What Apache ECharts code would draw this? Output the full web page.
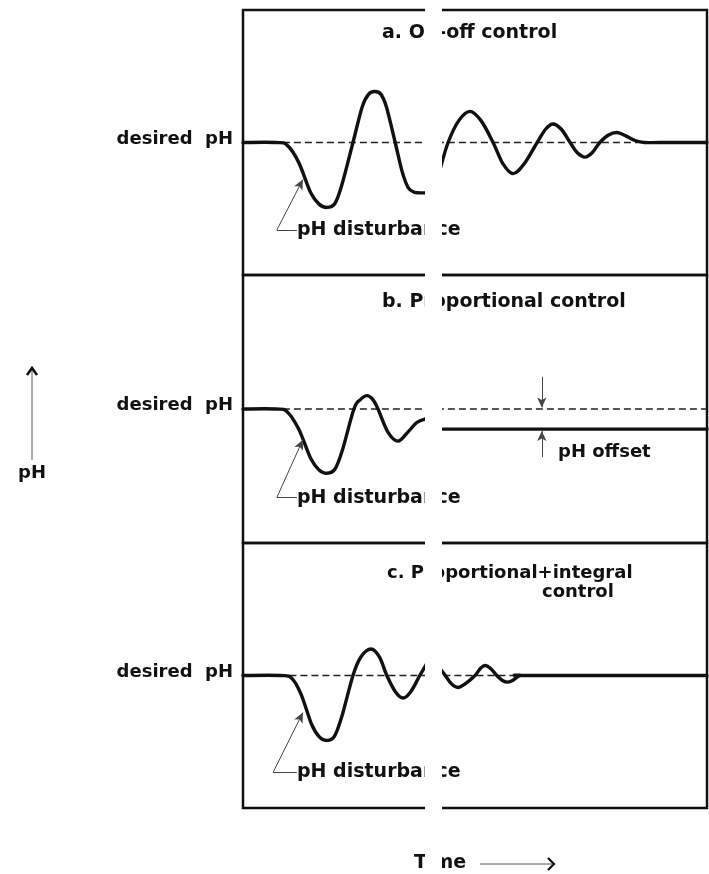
<!DOCTYPE html>
<html><head><meta charset="utf-8">
<script src="https://cdn.jsdelivr.net/npm/echarts/dist/echarts.min.js"></script>
<style>html,body{margin:0;padding:0;background:#fff}#c{width:709px;height:874px}</style>
</head><body><div id="c"></div>
<script>
// Time axis (arbitrary units 0..100), pH deviation from desired pH (0); null = break in the time axis
const onOffTime = [0,7,9.5,12,14.6,16.4,18.1,19.8,21.3,23.7,25.7,27.1,28.4,29.7,30.9,32.8,34.3,35.6,36.9,38,39.6,null,
  42.4,44.2,46.5,48.9,51.3,53.9,56,58.2,60.6,63.4,65.2,66.8,68.6,70.5,72,73.7,75.3,76.9,78.7,80.6,82.5,84.5,86.5,90,100];
const onOffPH   = [0,0,-0.02,-0.15,-0.38,-0.465,-0.49,-0.46,-0.32,0,0.27,0.365,0.385,0.365,0.27,0,-0.22,-0.34,-0.375,-0.38,-0.38,null,
  -0.21,0,0.165,0.235,0.165,0,-0.16,-0.235,-0.16,0,0.1,0.14,0.1,0,-0.075,-0.11,-0.075,0,0.055,0.075,0.05,0.015,0,0,0];

const propTime = [0,7,9.5,12,14.6,16.4,18.1,19.8,21.4,23.9,25.3,26.7,28,29.1,31.2,33.4,35.6,37.5,39.6,null,42.4,100];
const propPH   = [0,0,-0.02,-0.15,-0.37,-0.455,-0.48,-0.45,-0.31,0,0.07,0.1,0.07,0,-0.17,-0.24,-0.17,-0.1,-0.07,null,-0.15,-0.15];
const propOffset = -0.15;

const piTime = [0,8,10.5,12.5,14.8,16.5,18.1,19.7,21.3,23.7,25.4,27.6,29.4,31,32.8,34.5,36.2,38.1,39.6,null,
  42.4,43.6,45,46.3,47.8,50,51.2,52.2,53.3,54.7,56,57.1,58.2,59.7,62,100];
const piPH   = [0,0,-0.02,-0.14,-0.37,-0.465,-0.49,-0.46,-0.31,0,0.14,0.2,0.14,0,-0.12,-0.17,-0.12,0,0.09,null,
  0.055,0,-0.065,-0.09,-0.065,0,0.055,0.075,0.055,0,-0.04,-0.05,-0.035,0,0,0];

// dashed "desired pH" reference extents (time)
const desiredSpan = [[8.6, 87], [8.6, 100], [10, 60]];
// disturbance annotation: [text start time, corner time, text level, tip time, tip level]
const disturbNote = [[11.6, 7.3, -0.66, 12.9, -0.28], [11.6, 7.3, -0.66, 12.9, -0.23], [11.6, 6.5, -0.73, 12.9, -0.28]];
const offsetTime = 64.4;

const titles = ['a. On-off control', 'b. Proportional control', 'c. Proportional+integral'];

function segments(t, v) {
  const out = []; let cur = [];
  t.forEach((x, i) => {
    if (x === null || v[i] === null) { if (cur.length) out.push(cur); cur = []; }
    else cur.push([x, v[i]]);
  });
  if (cur.length) out.push(cur);
  return out;
}
function smoothPath(p) {
  let d = 'M' + p[0][0] + ' ' + p[0][1];
  for (let i = 0; i < p.length - 1; i++) {
    const a = p[i - 1] || p[i], b = p[i], c = p[i + 1], e = p[i + 2] || p[i + 1];
    const c1x = b[0] + (c[0] - a[0]) / 6, c1y = b[1] + (c[1] - a[1]) / 6;
    const c2x = c[0] - (e[0] - b[0]) / 6, c2y = c[1] - (e[1] - b[1]) / 6;
    d += ' C' + c1x + ' ' + c1y + ' ' + c2x + ' ' + c2y + ' ' + c[0] + ' ' + c[1];
  }
  return d;
}

const FONT = '"DejaVu Sans", sans-serif';
const grids = [{top:10,height:265},{top:275,height:268},{top:543,height:265}].map(g => Object.assign({
  left:243, right:2, show:true, borderColor:'#111', borderWidth:2.5, backgroundColor:'transparent'
}, g));

const curves = [segments(onOffTime,onOffPH), segments(propTime,propPH), segments(piTime,piPH)];
const series = [];
curves.forEach((segs, i) => {
  const n = disturbNote[i];
  const mlData = [
    [{coord:[n[0],n[2]],symbol:'none'},{coord:[n[1],n[2]],symbol:'none'}],
    [{coord:[n[1],n[2]],symbol:'none'},{coord:[n[3],n[4]],symbol:'arrow'}]
  ];
  if (i === 1) {
    mlData.push([{coord:[offsetTime,0.24],symbol:'none'},{coord:[offsetTime,0.012],symbol:'arrow'}]);
    mlData.push([{coord:[offsetTime,-0.36],symbol:'none'},{coord:[offsetTime,propOffset-0.015],symbol:'arrow'}]);
  }
  series.push({
    type:'line', xAxisIndex:i, yAxisIndex:i, symbol:'none', silent:true, z:1,
    data:[[desiredSpan[i][0],0],[desiredSpan[i][1],0]],
    lineStyle:{color:'#222', width:1.5, type:[7,4]},
    markLine:{silent:true, animation:false, symbol:['none','arrow'], symbolSize:[7,10],
      label:{show:false}, lineStyle:{color:'#444', width:1, type:'solid'}, data:mlData}
  });
  series.push({
    type:'custom', xAxisIndex:i, yAxisIndex:i, silent:true, z:2, clip:false,
    data:[[0,0]], encode:{x:0, y:1},
    renderItem: function (params, api) {
      return {type:'group', children: segs.map(seg => ({
        type:'path',
        shape:{pathData: smoothPath(seg.map(pt => api.coord(pt)))},
        style:{stroke:'#111', lineWidth:3.4, fill:'none', lineJoin:'round', lineCap:'round'}
      }))};
    }
  });
});

function txt(text, x, y, size, align) {
  return {type:'text', z:50, style:{text:text, x:x, y:y, font:'bold '+size+'px '+FONT, fill:'#111',
    textAlign:align||'left', textVerticalAlign:'middle', verticalAlign:'middle'}};
}
const desiredY = [139, 405, 672];
const graphic = [];
graphic.push(txt(titles[0], 382, 33, 19));
graphic.push(txt(titles[1], 382, 302, 19));
graphic.push(txt(titles[2], 387, 573, 18));
graphic.push(txt('control', 542, 592, 18));
desiredY.forEach(y => graphic.push(txt('desired  pH', 233, y, 18, 'right')));
[230, 498, 772].forEach(y => graphic.push(txt('pH disturbance', 297, y, 19)));
graphic.push(txt('pH offset', 558, 452, 18));
graphic.push(txt('pH', 32, 473, 18, 'center'));
graphic.push(txt('Time', 414, 863, 19));
graphic.push({type:'line', z:50, shape:{x1:32,y1:460,x2:32,y2:370}, style:{stroke:'#555', lineWidth:1}});
graphic.push({type:'polyline', z:50, shape:{points:[[27,375],[32,368],[37,375]]}, style:{stroke:'#111', lineWidth:2.5, fill:null}});
graphic.push({type:'line', z:50, shape:{x1:480,y1:864,x2:553,y2:864}, style:{stroke:'#555', lineWidth:1}});
graphic.push({type:'polyline', z:50, shape:{points:[[548,858],[554,864],[548,870]]}, style:{stroke:'#111', lineWidth:2.2, fill:null}});
// white break band through the figure
graphic.push({type:'rect', z:100, shape:{x:425,y:0,width:17,height:874}, style:{fill:'#fff'}});

const chart = echarts.init(document.getElementById('c'), null, {renderer:'canvas'});
chart.setOption({
  animation:false,
  backgroundColor:'#fff',
  grid:grids,
  xAxis:[0,1,2].map(i => ({gridIndex:i, type:'value', min:0, max:100, show:false})),
  yAxis:[0,1,2].map(i => ({gridIndex:i, type:'value', min:-1, max:1, show:false})),
  series:series,
  graphic:graphic
});
</script></body></html>
